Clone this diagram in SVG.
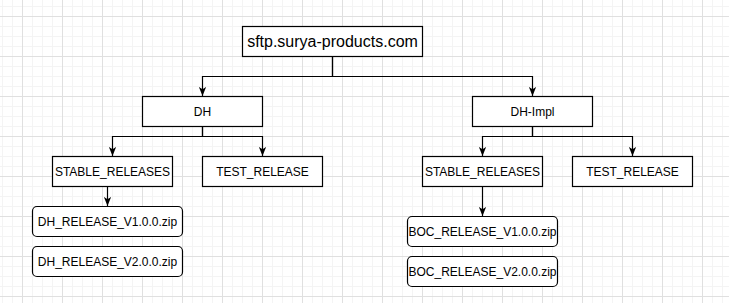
<svg xmlns="http://www.w3.org/2000/svg" width="729" height="303" viewBox="0 0 729 303">
<defs>
<pattern id="grid" x="22" y="16" width="40" height="40" patternUnits="userSpaceOnUse">
<path d="M10.5,0V40M20.5,0V40M30.5,0V40M0,10.5H40M0,20.5H40M0,30.5H40" stroke="#f4f4f4" stroke-width="1" fill="none"/>
<path d="M0.5,0V40M0,0.5H40" stroke="#e0e0e0" stroke-width="1" fill="none"/>
</pattern>
<marker id="arr" viewBox="0 0 10 8" refX="10" refY="4" markerWidth="9" markerHeight="7.5" markerUnits="userSpaceOnUse" orient="auto">
<path d="M0,0 L10,4 L0,8 L2.5,4 Z" fill="#000"/>
</marker>
<style>
.box{fill:#fff;stroke:#000;stroke-width:1.2}
.t{font-family:"Liberation Sans",Arial,sans-serif;font-size:12px;fill:#000;text-anchor:middle}
.big{font-size:16px}
.c{fill:none;stroke:#000;stroke-width:1.2;marker-end:url(#arr)}
</style>
</defs>
<rect width="729" height="303" fill="#fff"/>
<rect width="729" height="303" fill="url(#grid)"/>
<g id="connectors">
<path class="c" d="M332.5,56.5V76.5H202.5V96"/>
<path class="c" d="M332.5,56.5V76.5H532.5V96"/>
<path class="c" d="M202.5,126.5V136.5H112.5V156"/>
<path class="c" d="M202.5,126.5V136.5H262.5V156"/>
<path class="c" d="M532.5,126.5V136.5H482.5V156"/>
<path class="c" d="M532.5,126.5V136.5H632.5V156"/>
<path class="c" d="M107.5,186.5V206"/>
<path class="c" d="M482.5,186.5V216"/>
</g>
<g id="root"><rect class="box" x="242.5" y="26.5" width="180" height="30"/><text class="t big" x="332.5" y="47">sftp.surya-products.com</text></g>
<g id="dh"><rect class="box" x="142.5" y="96.5" width="120" height="30"/><text class="t" x="202.5" y="115.5">DH</text></g>
<g id="dhimpl"><rect class="box" x="472.5" y="96.5" width="120" height="30"/><text class="t" x="532.5" y="115.5">DH-Impl</text></g>
<g id="stable1"><rect class="box" x="52.5" y="156.5" width="120" height="30"/><text class="t" x="112.5" y="175.5">STABLE_RELEASES</text></g>
<g id="test1"><rect class="box" x="202.5" y="156.5" width="120" height="30"/><text class="t" x="262.5" y="175.5">TEST_RELEASE</text></g>
<g id="stable2"><rect class="box" x="422.5" y="156.5" width="120" height="30"/><text class="t" x="482.5" y="175.5">STABLE_RELEASES</text></g>
<g id="test2"><rect class="box" x="572.5" y="156.5" width="120" height="30"/><text class="t" x="632.5" y="175.5">TEST_RELEASE</text></g>
<g id="dhv1"><rect class="box" x="32.5" y="206.5" width="150" height="30" rx="4.5"/><text class="t" x="107.5" y="225.5">DH_RELEASE_V1.0.0.zip</text></g>
<g id="dhv2"><rect class="box" x="32.5" y="246.5" width="150" height="30" rx="4.5"/><text class="t" x="107.5" y="265.5">DH_RELEASE_V2.0.0.zip</text></g>
<g id="bocv1"><rect class="box" x="407.5" y="216.5" width="150" height="30" rx="4.5"/><text class="t" x="482.5" y="235.5">BOC_RELEASE_V1.0.0.zip</text></g>
<g id="bocv2"><rect class="box" x="407.5" y="256.5" width="150" height="30" rx="4.5"/><text class="t" x="482.5" y="275.5">BOC_RELEASE_V2.0.0.zip</text></g>
</svg>
